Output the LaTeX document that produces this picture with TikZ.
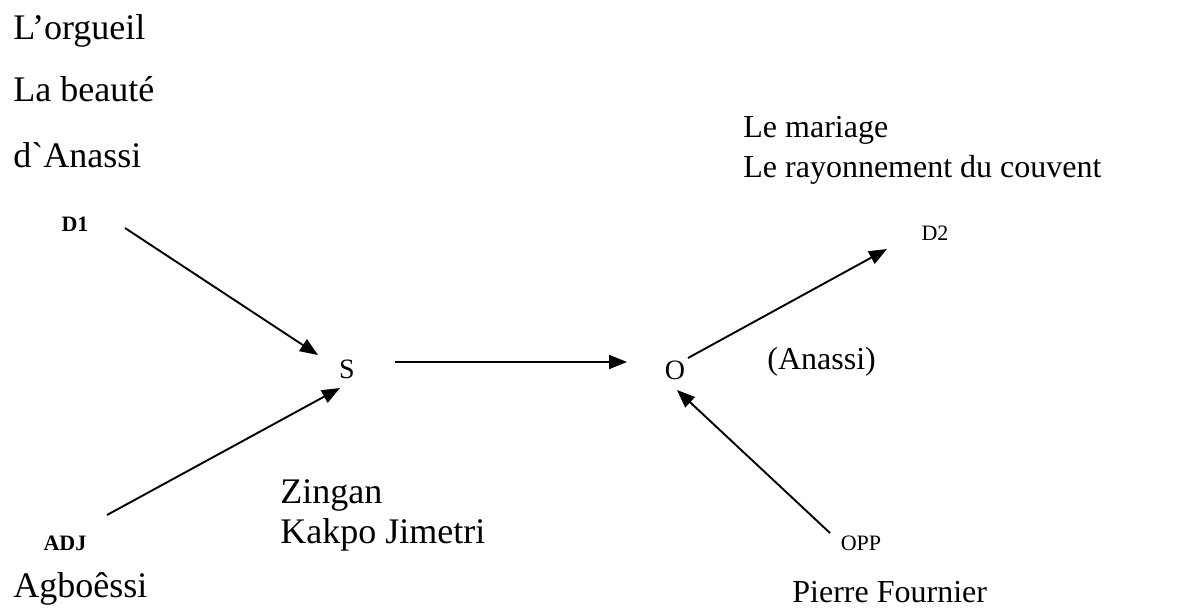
\documentclass[tikz,border=0pt]{standalone}
\usepackage{fontspec}
\setmainfont{Liberation Serif}
% same face without the TeX quote mapping, for a plain grave mark
\newfontfamily\rawserif[Ligatures=ResetAll]{Liberation Serif}
\usetikzlibrary{arrows.meta}
\begin{document}
\begin{tikzpicture}[x=0.5pt,y=-0.5pt,
  bigtxt/.style={font=\fontsize{18}{20}\selectfont, anchor=base west, inner sep=0pt},
  midtxt/.style={font=\fontsize{16}{19}\selectfont, anchor=base west, inner sep=0pt},
  actant/.style={font=\fontsize{14}{16}\selectfont, inner sep=0pt},
  role/.style={font=\fontsize{11}{13}\selectfont, inner sep=0pt},
  link/.style={-{Triangle[length=9pt,width=7pt]}, line width=0.95pt}]
\useasboundingbox (0,0) rectangle (1196,611);

% sender side texts
\node[bigtxt] (d1a) at (13,39) {L’orgueil};
\node[bigtxt] (d1b) at (13,101) {La beauté};
\node[bigtxt] (d1c) at (13,167) {d{\rawserif`}Anassi};

% receiver side texts
\node[midtxt] (d2a) at (743,137) {Le mariage};
\node[midtxt] (d2b) at (743,177) {Le rayonnement du couvent};

% subject / object descriptions
\node[midtxt] (obj) at (767,369) {(Anassi)};
\node[bigtxt] (sub1) at (280,503) {Zingan};
\node[bigtxt] (sub2) at (280,543) {Kakpo Jimetri};

% helper / opponent names
\node[bigtxt] (adjn) at (13,597) {Agboêssi};
\node[midtxt] (oppn) at (792,602) {Pierre Fournier};

% actant labels
\node[role, font=\fontsize{11}{13}\selectfont\bfseries] (D1) at (75,224) {D1};
\node[role] (D2) at (935,233) {D2};
\node[role, font=\fontsize{11}{13}\selectfont\bfseries] (ADJ) at (65,543) {ADJ};
\node[role] (OPP) at (861,543) {OPP};
\node[actant] (S) at (347,369) {S};
\node[actant] (O) at (675,370) {O};

% arrow end points around the actants
\coordinate (d1out) at (125,228);
\coordinate (sin1) at (318,355);
\coordinate (adjout) at (107,515);
\coordinate (sin2) at (340,388);
\coordinate (sout) at (395,362);
\coordinate (oin) at (627,362);
\coordinate (oout) at (688,358);
\coordinate (d2in) at (887,249);
\coordinate (oppout) at (830,533);
\coordinate (oin2) at (677,390);

\draw[link] (d1out) -- (sin1);
\draw[link] (adjout) -- (sin2);
\draw[link] (sout) -- (oin);
\draw[link] (oout) -- (d2in);
\draw[link] (oppout) -- (oin2);
\end{tikzpicture}
\end{document}
